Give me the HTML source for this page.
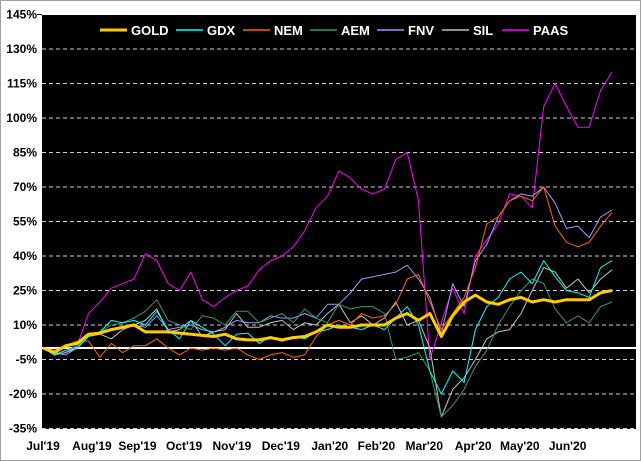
<!DOCTYPE html>
<html><head><meta charset="utf-8"><style>
html,body{margin:0;padding:0;background:#fff;}
svg{display:block;font-family:"Liberation Sans",Arial,sans-serif;}
</style></head><body>
<svg id="chart" width="641" height="461">
<rect x="0.5" y="0.5" width="640" height="460" fill="#fff" stroke="#a0a0a0"/>
<rect x="42" y="15" width="594" height="414" fill="#000"/>
<g id="grid"></g><g id="ylab"></g><g id="xlab"></g><g id="series"></g><g id="legend"></g>
</svg>
<script>
const yTicks=[145,130,115,100,85,70,55,40,25,10,-5,-20,-35];
const months=["Jul'19","Aug'19","Sep'19","Oct'19","Nov'19","Dec'19","Jan'20","Feb'20","Mar'20","Apr'20","May'20","Jun'20"];
const monthWeeks=[0,4.3,8.3,12.4,16.6,20.9,25.2,29.3,33.5,37.8,41.9,46.1];
const names=["GOLD","GDX","NEM","AEM","FNV","SIL","PAAS"];
const colors=["#ffcc00","#00ffff","#ff6600","#339966","#9999ff","#c0c0c0","#ff00ff"];
const gold=[0,-2,1,2,6,6.5,8,9,10,7,7,7,6.5,6,5.5,5,6,4,3.5,3.5,4.5,3.5,4.5,5,7,10,9,9,10,10,10,13,15,12,15,5,14,20,23,20,19,21,22,20,21,20,21,21,21,24,25];
const gdx=[0,-3,-1,0,5,7,12,11,12,10,16,8,4,12,9,6,1,6,6.5,2,5,3,5,4,7,8,10,9,8,10,8,13,18,10,-10,-20,-10,-15,8,18,22,30,33,28,38,31,25,24,22,35,38];
const nem=[0,-1,1,3,3,-4,2,-2,1,1,4,0,-3,0,-1,0,-1,0,-3,-5,-3,-2,-4,-3,5,10,12,10,15,13,14,19,30,32,20,8,15,22,35,54,57,64,66,64,70,53,46,44,46,53,59];
const aem=[0,-3,-1,1,5,7,10,11,13,16,21,12,10,8,14,13,10,16,16,11,13,15,11,17,13,11,19,17,18,18,15,-5,-4,-2,-10,-30,-25,-18,-8,-1,10,18,25,30,28,17,11,14,11,18,20];
const fnv=[0,-2,-3,0,5,7,8,9,10,9,14,8,9,10,8,7,9,12,11,11,14,13,13,15,13,19,19,24,30,31,32,33,36,30,22,6,28,18,38,45,57,64,67,66,70,63,52,53,48,57,60];
const sil=[0,-3,-2,0,5,6,4,8,10,12,17,7,8,12,5,7,8,15,9,9,11,12,8,11,10,15,19,11,14,10,13,20,10,12,0,-30,-18,-13,-5,4,7,8,15,25,35,33,26,30,24,30,34];
const paas=[0,-3,-2,1,15,20,26,28,30,41,38,28,25,33,21,18,22,25,27,34,38,40,44,51,61,66,77,74,69,67,69,82,85,64,-5,11,26,15,40,47,54,67,66,61,105,115,105,96,96,112,120];
const seriesData=[gold,gdx,nem,aem,fnv,sil,paas];
const NS="http://www.w3.org/2000/svg";
const X0=43,X1=612,NW=50;
function xs(w){return X0+(X1-X0)*w/NW;}
function ys(v){return 348-v*2.3;}
function mk(t,a,parent){const e=document.createElementNS(NS,t);for(const k in a)e.setAttribute(k,a[k]);parent.appendChild(e);return e;}
const grid=document.getElementById('grid'),ylab=document.getElementById('ylab'),xlab=document.getElementById('xlab'),ser=document.getElementById('series'),leg=document.getElementById('legend');
yTicks.forEach(t=>{
  if(t!==145){const l=mk('line',{x1:42,x2:636,y1:ys(t),y2:ys(t),stroke:'#d0d0d0','stroke-dasharray':'4,3','stroke-width':1},grid);
  
  }
  const tx=mk('text',{x:37,y:ys(t)+4,'text-anchor':'end','font-size':12,'font-weight':'bold',fill:'#000'},ylab);
  tx.textContent=t+'%';
  
  
});
const tk=mk('line',{x1:37,x2:42,y1:ys(145),y2:ys(145),stroke:'#000'},grid);


const z=mk('line',{x1:42,x2:636,y1:ys(0),y2:ys(0),stroke:'#fff','stroke-width':2},grid);


months.forEach((m,i)=>{
  const tx=mk('text',{x:xs(monthWeeks[i]),y:450,'text-anchor':'middle','font-size':12,'font-weight':'bold',fill:'#000'},xlab);
  tx.textContent=m;
  
  
});
const order=[6,5,4,3,2,1,0];
order.forEach(i=>{
  const d=seriesData[i].map((v,w)=>(w?'L':'M')+xs(w).toFixed(1)+','+ys(v).toFixed(1)).join('');
  const p=mk('path',{d:d,fill:'none',stroke:colors[i],'stroke-width':i===0?3:1,'stroke-linejoin':'round'},ser);
  
  
});
const legX=[100,176,243,310,377,442,502];
names.forEach((n,i)=>{
  const l=mk('line',{x1:legX[i],x2:legX[i]+27,y1:30,y2:30,stroke:colors[i],'stroke-width':i===0?3:1.5},leg);
  
  
  const t=mk('text',{x:legX[i]+31,y:35,'font-size':13,'font-weight':'bold',fill:'#fff'},leg);
  t.textContent=n;
  
  
});
</script>
</body></html>
